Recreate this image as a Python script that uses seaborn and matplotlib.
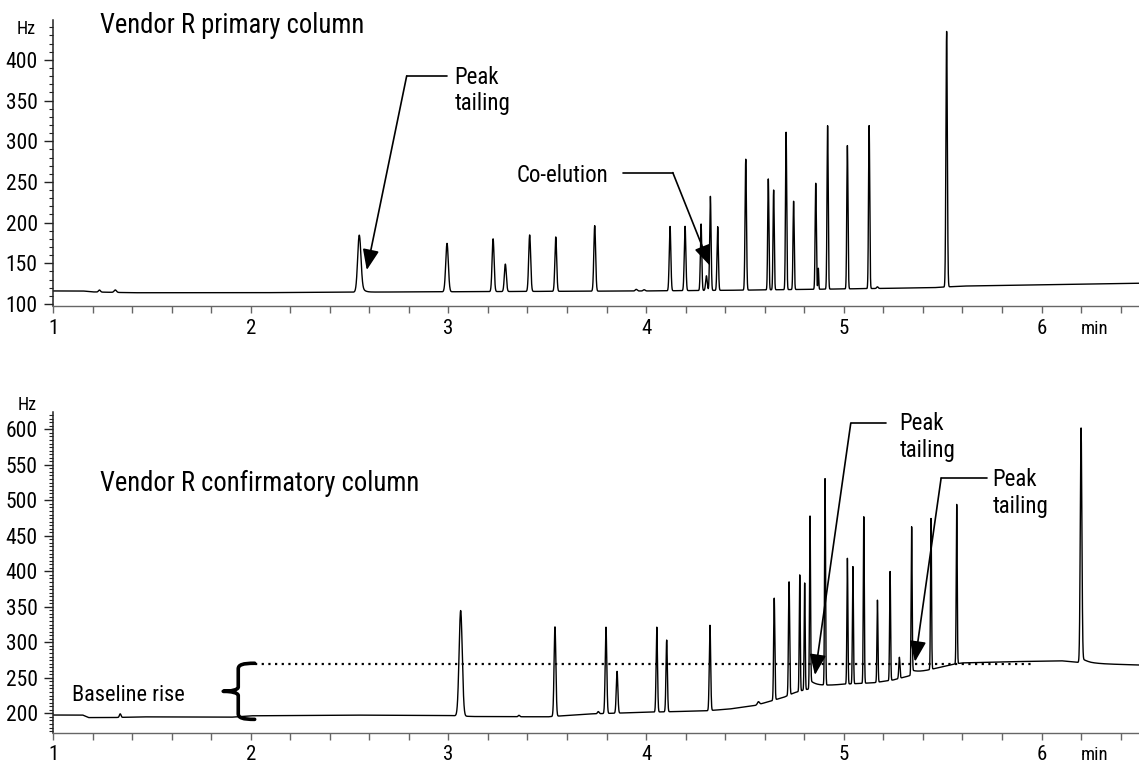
import numpy as np
import pandas as pd
import seaborn as sns
import matplotlib.pyplot as plt
from matplotlib.path import Path
from matplotlib.patches import PathPatch
from matplotlib.ticker import MultipleLocator

# ---- primary column: peaks (retention time min, height above baseline Hz, sigma min)
prim_rt = [1.235, 1.315, 2.549, 2.993, 3.226, 3.288, 3.411, 3.543, 3.740, 3.950, 3.990,
           4.121, 4.197, 4.278, 4.305, 4.325, 4.362, 4.504, 4.618, 4.645, 4.708, 4.746,
           4.858, 4.871, 4.918, 5.018, 5.128, 5.170, 5.520]
prim_height = [2.5, 3, 70, 59.5, 64.8, 33.7, 69.4, 66.8, 80.5, 2, 1.5,
               79, 79, 81.7, 18, 115.6, 78.2, 160.9, 136.3, 122.6, 193.4, 108.5,
               130.3, 25.8, 200.8, 176.1, 200.3, 2, 314]
prim_sigma = [0.005, 0.006, 0.008, 0.0065, 0.005, 0.005, 0.005, 0.0045, 0.0045, 0.005, 0.005,
              0.004, 0.004, 0.0035, 0.004, 0.0035, 0.0035, 0.0035, 0.003, 0.003, 0.003, 0.003,
              0.003, 0.002, 0.003, 0.003, 0.003, 0.004, 0.0035]
prim_tail = [0] * 29
prim_tail[2] = 0.3
prim_tau = [0.012] * 29
prim_base_t = [1.00, 1.15, 1.20, 1.40, 2.00, 2.50, 3.00, 3.50, 4.00, 4.50, 5.00, 5.45, 5.60, 6.00, 6.50]
prim_base_hz = [116, 116, 114.8, 113.8, 113.8, 114.5, 115, 115.5, 116, 117, 118.5, 120, 122, 123.5, 125.5]

# ---- confirmatory column
conf_rt = [1.340, 3.062, 3.357, 3.539, 3.758, 3.797, 3.853, 4.054, 4.104, 4.323, 4.568,
           4.648, 4.723, 4.777, 4.802, 4.829, 4.905, 5.018, 5.046, 5.101, 5.170, 5.234,
           5.281, 5.343, 5.441, 5.571, 6.200]
conf_height = [5, 148.5, 2, 126, 3, 121.5, 58.8, 119.5, 101, 120, 4,
               143.5, 159.4, 163.8, 150.5, 243.5, 290.6, 177, 165, 234.5, 115.6, 153.4,
               29.7, 209, 212.5, 224.4, 330.6]
conf_sigma = [0.004, 0.008, 0.004, 0.0045, 0.004, 0.004, 0.004, 0.0035, 0.0035, 0.0035, 0.005,
              0.003, 0.003, 0.0025, 0.0025, 0.0025, 0.0025, 0.0025, 0.0025, 0.0025, 0.0025, 0.0025,
              0.003, 0.0025, 0.0025, 0.0025, 0.004]
conf_tail = [0] * 27
conf_tail[15] = 0.05
conf_tail[23] = 0.035
conf_tail[26] = 0.02
conf_tau = [0.04] * 27
conf_base_t = [1.00, 1.15, 1.18, 1.30, 1.45, 1.90, 2.00, 2.50, 3.00, 3.12, 3.50, 3.70, 4.00, 4.30,
               4.42, 4.55, 4.64, 4.70, 4.75, 4.80, 4.90, 5.00, 5.15, 5.25, 5.32, 5.45, 5.55,
               5.60, 5.80, 6.10, 6.25, 6.50]
conf_base_hz = [197.6, 197.6, 194, 194, 195, 194.5, 196.5, 197.5, 197, 195.5, 195, 199, 201.5, 203.5,
                206, 211, 218, 223, 229, 233, 238, 241, 243, 247, 252, 262, 269,
                271, 272.5, 274, 270, 268]
rise_level = 269.5


def trace(t, base_t, base_hz, rt, h, sig, frac, tau):
    y = np.interp(t, base_t, base_hz)
    for mu, a, s, f, tt in zip(rt, h, sig, frac, tau):
        g = np.exp(-0.5 * ((t - mu) / s) ** 2)
        dt = t - mu
        tail = np.where(dt > 0, np.exp(-np.clip(dt, 0, None) / tt), 0) * (1 - g)
        y = y + a * (g + f * tail)
    return y


t = np.arange(1.0, 6.5, 0.0005)
prim = pd.DataFrame({"min": t, "Hz": trace(t, prim_base_t, prim_base_hz, prim_rt, prim_height,
                                            prim_sigma, prim_tail, prim_tau)})
conf = pd.DataFrame({"min": t, "Hz": trace(t, conf_base_t, conf_base_hz, conf_rt, conf_height,
                                            conf_sigma, conf_tail, conf_tau)})

sns.set_style("ticks")
plt.rcParams["font.family"] = ["Roboto Condensed", "Liberation Sans", "DejaVu Sans"]
plt.rcParams["text.color"] = "black"
plt.rcParams["xtick.color"] = "black"
plt.rcParams["ytick.color"] = "black"

fig = plt.figure(figsize=(11.39, 7.64), dpi=100)
ax1 = fig.add_axes([53 / 1139, 1 - 306 / 764, 1086 / 1139, 286 / 764])
ax2 = fig.add_axes([53 / 1139, 1 - 732.7 / 764, 1086 / 1139, 320.4 / 764])

sns.lineplot(data=prim, x="min", y="Hz", ax=ax1, color="black", linewidth=1.0,
             estimator=None, sort=False)
sns.lineplot(data=conf, x="min", y="Hz", ax=ax2, color="black", linewidth=1.0,
             estimator=None, sort=False)

for ax, ylim, minor in [(ax1, (97.5, 449), 10), (ax2, (172.7, 624), 5)]:
    ax.set_xlim(1.0, 6.493)
    ax.set_ylim(*ylim)
    ax.set_xlabel("")
    ax.set_ylabel("")
    ax.xaxis.set_major_locator(MultipleLocator(1))
    ax.xaxis.set_minor_locator(MultipleLocator(0.2))
    ax.yaxis.set_major_locator(MultipleLocator(50))
    ax.yaxis.set_minor_locator(MultipleLocator(minor))
    ax.xaxis.set_major_formatter(lambda v, p: f"{v:.0f}")
    ax.yaxis.set_major_formatter(lambda v, p: f"{v:.0f}")
    for s in ["top", "right"]:
        ax.spines[s].set_visible(False)
    ax.spines["left"].set_color("#222222")
    ax.spines["left"].set_linewidth(1.1)
    ax.spines["bottom"].set_color("#666666")
    ax.spines["bottom"].set_linewidth(1.0)
    ax.tick_params(axis="x", which="both", direction="out", length=5, width=1.0,
                   color="#666666", labelcolor="black", pad=4, labelsize=15)
    ax.tick_params(axis="y", which="major", direction="out", length=6.5, width=1.0,
                   color="#222222", labelcolor="black", pad=4.5, labelsize=15.5)
    ax.tick_params(axis="y", which="minor", direction="out", length=3, width=0.8,
                   color="#222222")
    ax.annotate("min", xy=(6.27, 0), xycoords=("data", "axes fraction"),
                xytext=(0, -20), textcoords="offset points", ha="center",
                va="baseline", fontsize=13.5)

ax1.text(-0.025, 0.9685, "Hz", transform=ax1.transAxes, ha="center", va="center", fontsize=13)
ax2.text(-0.024, 1.0228, "Hz", transform=ax2.transAxes, ha="center", va="center", fontsize=13)

ax1.text(0.0433, 0.9825, "Vendor R primary column", transform=ax1.transAxes,
         ha="left", va="center", fontsize=19.2)
ax2.text(0.0433, 0.778, "Vendor R confirmatory column", transform=ax2.transAxes,
         ha="left", va="center", fontsize=19.2)

arrow_kw = dict(arrowstyle="-|>,head_length=0.7,head_width=0.28", color="black",
                lw=1.2, shrinkA=0, shrinkB=0, mutation_scale=18)


def callout(ax, label, text_xy, start, elbow, tip):
    ax.plot([start[0], elbow[0]], [start[1], elbow[1]], color="black", lw=1.2)
    ax.annotate("", xy=tip, xytext=elbow, arrowprops=arrow_kw)
    if label:
        ax.text(text_xy[0], text_xy[1], label, ha="left", va="center", fontsize=16.5)


callout(ax1, "Peak\ntailing", (3.03, 362.5), (2.991, 380.3), (2.789, 380.3), (2.587, 141.7))
callout(ax1, "", (0, 0), (3.885, 261.4), (4.135, 261.4), (4.323, 147))
ax1.text(3.345, 257.7, "Co-elution", ha="left", va="center", fontsize=16.5)
callout(ax2, "Peak\ntailing", (5.281, 589.2), (5.213, 608.5), (5.035, 608.5), (4.854, 254))
callout(ax2, "Peak\ntailing", (5.751, 510.3), (5.723, 531), (5.492, 531), (5.360, 272.7))

# baseline rise marker
ax2.plot([2.02, 5.95], [rise_level, rise_level], color="black", lw=1.6,
         linestyle=(0, (1, 2)))
lo = 191.5
hi = rise_level + 1
mid = (lo + hi) / 2
xv, xt, xe = 1.937, 1.861, 2.02
verts = [(xe, hi), (1.96, hi), (xv, hi - 2), (xv, hi - 8),
         (xv, mid + 6),
         (xv, mid + 2), (1.90, mid), (xt, mid),
         (1.90, mid), (xv, mid - 2), (xv, mid - 6),
         (xv, lo + 8),
         (xv, lo + 2), (1.96, lo), (xe, lo)]
codes = [Path.MOVETO, Path.CURVE4, Path.CURVE4, Path.CURVE4,
         Path.LINETO,
         Path.CURVE4, Path.CURVE4, Path.CURVE4,
         Path.CURVE4, Path.CURVE4, Path.CURVE4,
         Path.LINETO,
         Path.CURVE4, Path.CURVE4, Path.CURVE4]
ax2.add_patch(PathPatch(Path(verts, codes), facecolor="none", edgecolor="black", lw=2.6,
                        capstyle="round", joinstyle="round"))
ax2.text(1.096, 225.8, "Baseline rise", ha="left", va="center", fontsize=16)

fig.savefig("out.png", dpi=100)
